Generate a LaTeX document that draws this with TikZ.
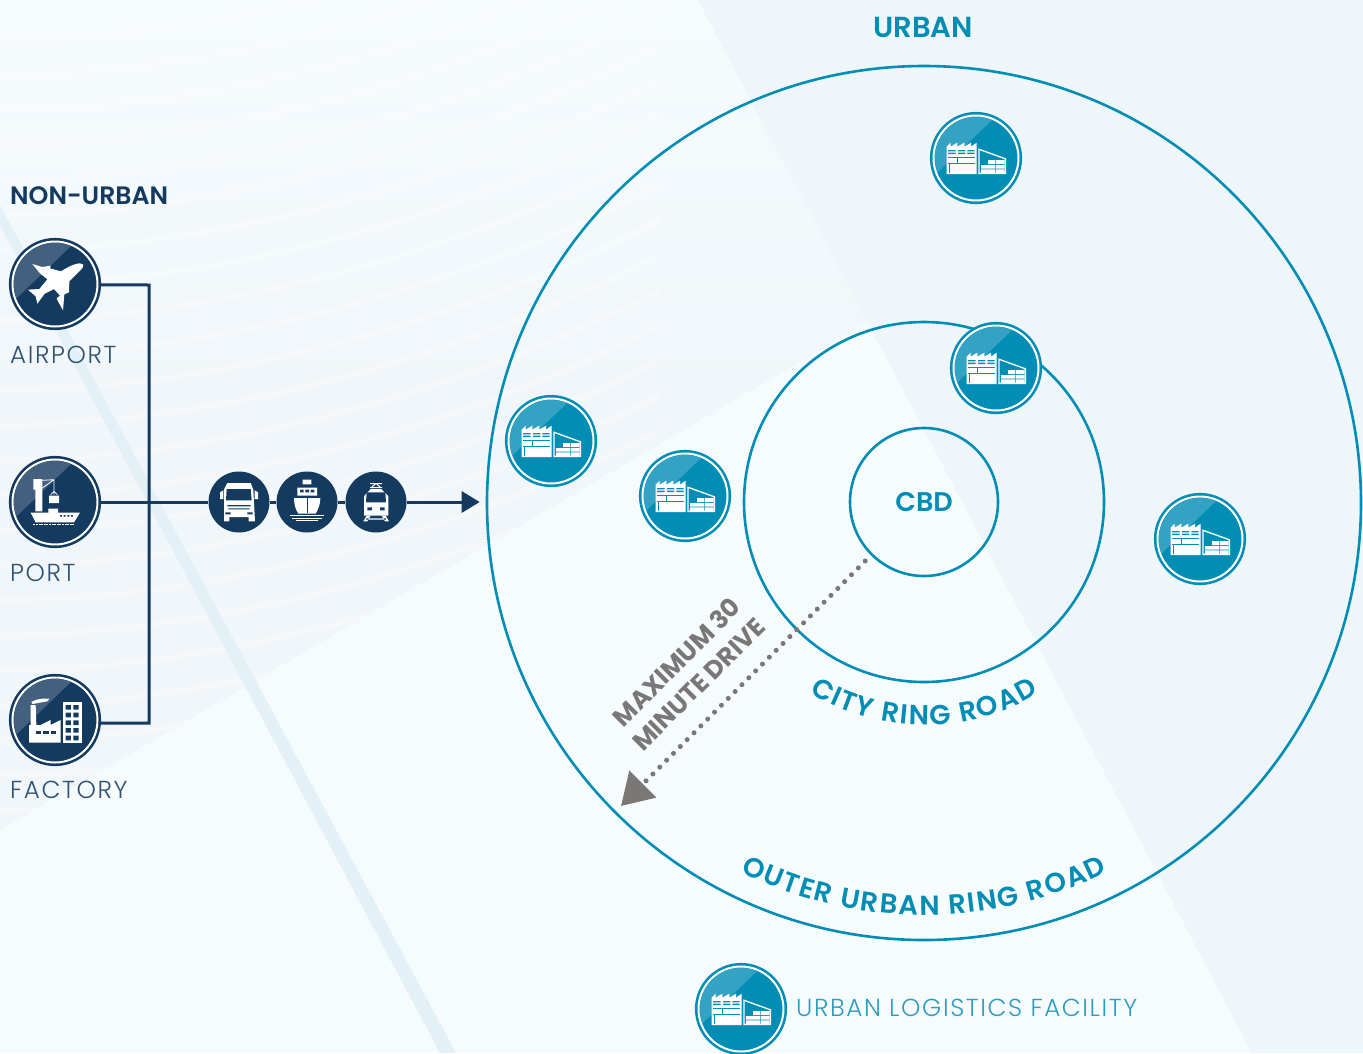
\documentclass[tikz,border=0pt]{standalone}
\usepackage{fontspec}
\setmainfont{Poppins}
\newfontfamily\lightfont[LetterSpace=6.5]{Poppins Light}
\newfontfamily\headfont{Poppins SemiBold}
\usepackage{tikz}
\usetikzlibrary{positioning}
\usetikzlibrary{arrows.meta}
\usetikzlibrary{decorations.text}
\definecolor{navy}{HTML}{143A5F}
\definecolor{ringteal}{HTML}{028DB5}
\definecolor{labelteal}{HTML}{2E9CBE}
\definecolor{labelnavy}{HTML}{2F5273}
\definecolor{drivegrey}{HTML}{7A7876}
\definecolor{paleback}{HTML}{F6FBFE}
\definecolor{midback}{HTML}{F0F6F9}
\definecolor{sideback}{HTML}{EEF6F9}
\definecolor{bandback}{HTML}{E3F0F5}
\newcommand{\ringfont}{\fontsize{27.5}{27.5}\selectfont\headfont\color{ringteal}}
\tikzset{
  hub/.style={circle,inner sep=0pt,minimum size=85pt,fill=#1,draw=#1,line width=2.6pt,
    double=white,double distance=2pt},
  modedisc/.style={circle,inner sep=0pt,minimum size=61pt,fill=navy},
  zoomed/.style 2 args={x=.3333pt,y=-.3333pt,shift={(-#1,-#2)}},
  smalltext/.style={font=\fontsize{24.6}{24.6}\lightfont,text=labelnavy,inner sep=0pt,anchor=base west},
  headtext/.style={font=\fontsize{25.2}{25.2}\headfont,inner sep=0pt},
  link/.style={draw=navy,line width=3pt},
  ringline/.style={circle,inner sep=0pt,draw=ringteal,line width=2.6pt},
}
\newcommand{\sheen}{\begin{scope}
  \clip (0,0) circle (41);
  \fill[white,opacity=.2] (-60,-35) -- (40,61) -- (-60,61) -- cycle;
  \end{scope}}
\newcommand{\planeicon}{\begin{scope}[zoomed={163}{343}]
  \fill[white] (248,285) .. controls (250,295) and (235,305) .. (206,335) -- (205,368) -- (191,374) -- (187,422)
    -- (172,395) -- (168,386) -- (178,378) -- (160,358) -- (132,372) -- (110,402) -- (105,380) -- (82,360)
    -- (116,358) -- (140,329) -- (118,311) -- (95,283) -- (125,292) -- (150,288) -- (148,296) -- (181,305)
    .. controls (212,285) and (240,275) .. (248,285) -- cycle;
\end{scope}}
\newcommand{\porticon}{\begin{scope}[zoomed={163}{187}]
  \fill[white] (98,118) -- (125,118) -- (125,215) -- (104,215) -- (104,150) -- (98,150) -- cycle;
  \draw[white,line width=.8pt] (125,122) -- (160,120) -- (160,165) (125,145) -- (160,120) (150,165) -- (160,155) -- (170,165);
  \fill[white] (145,168) rectangle (175,190) (143,207) rectangle (172,225);
  \fill[white] (90,219) -- (238,219) -- (220,248) -- (105,248) -- cycle;
  \fill[navy] (178,226) rectangle (184,231) (189,226) rectangle (195,231) (200,226) rectangle (206,231) (211,226) rectangle (217,231);
  \draw[white,line width=1.4pt,dash pattern=on 2pt off .6pt] (98,255) -- (220,255);
\end{scope}}
\newcommand{\factoryicon}{\begin{scope}[zoomed={163}{840}]
  \fill[white] (90,795) -- (105,795) -- (107,855) -- (120,855) -- (150,840) -- (150,855) -- (180,840) -- (180,908)
    -- (85,908) -- (85,855) -- (90,855) -- cycle;
  \fill[white] (92,786) .. controls (110,775) and (130,775) .. (146,776) -- (140,784) -- (96,792) -- cycle;
  \fill[white] (187,787) rectangle (243,908);
  \foreach \wy in {795,818,841,864,887} {
    \fill[navy] (195,\wy) rectangle (211,\wy+14) (218,\wy) rectangle (234,\wy+14);
  }
  \foreach \wx in {105,128,151} {
    \fill[navy] (\wx,874) rectangle (\wx+16,882);
  }
\end{scope}}
\newcommand{\truckicon}{\begin{scope}[zoomed={117}{127}]
  \fill[white] (82,70) -- (152,70) -- (160,90) -- (165,185) -- (146,185) -- (146,172) -- (88,172) -- (88,185) -- (72,185) -- (72,90) -- cycle;
  \fill[white] (60,98) -- (70,92) -- (70,118) -- (60,118) -- cycle (174,98) -- (164,92) -- (164,118) -- (174,118) -- cycle;
  \fill[navy] (80,88) -- (152,88) -- (155,122) -- (78,122) -- cycle;
  \fill[navy] (82,136) rectangle (152,140) (85,146) rectangle (149,149) (76,158) rectangle (92,164) (142,158) rectangle (158,164);
\end{scope}}
\newcommand{\shipicon}{\begin{scope}[zoomed={322}{127}]
  \fill[white] (309,60) rectangle (335,74) (293,84) rectangle (352,108);
  \fill[white] (283,115) -- (362,115) .. controls (362,135) and (355,150) .. (348,162) -- (296,162) .. controls (288,150) and (283,135) .. (283,115) -- cycle;
  \fill[navy] (301,90) rectangle (312,98) (317,90) rectangle (328,98) (333,90) rectangle (344,98);
  \draw[navy,line width=.8pt] (322,116) -- (322,160);
  \draw[white,line width=1pt] (272,168) -- (372,168) (278,176) -- (366,176) (288,183) -- (356,183);
\end{scope}}
\newcommand{\trainicon}{\begin{scope}[zoomed={528}{127}]
  \draw[white,line width=1pt] (510,72) -- (546,72) (515,82) -- (528,72) -- (541,82) (510,84) -- (546,84);
  \fill[white] (512,88) -- (544,88) -- (565,110) -- (565,168) -- (492,168) -- (492,110) -- cycle;
  \fill[navy] (500,98) -- (556,98) -- (558,128) -- (498,128) -- cycle;
  \fill[navy] (502,143) rectangle (516,152) (540,143) rectangle (554,152);
  \fill[white] (500,168) -- (512,168) -- (502,185) -- (490,185) -- cycle (545,168) -- (557,168) -- (567,185) -- (555,185) -- cycle (498,176) rectangle (558,180);
\end{scope}}
\newcommand{\facilityicon}{\begin{scope}[zoomed={168}{174}]
  \fill[white] (80,140) -- (92,128) -- (92,140) -- (112,128) -- (112,140) -- (133,128) -- (133,140) -- (153,128) -- (153,140) -- (170,128) -- (170,222) -- (80,222) -- cycle;
  \fill[ringteal] (84,150) rectangle (107,154) (114,150) rectangle (136,154) (142,150) rectangle (164,154)
    (84,158) rectangle (107,162) (114,158) rectangle (136,162) (142,158) rectangle (164,162);
  \draw[ringteal,line width=.7pt] (85,172) -- (165,172) (112,172) -- (112,190) (85,190) -- (165,190) (88,190) -- (88,218);
  \fill[white] (175,145) -- (258,175) -- (258,222) -- (175,222) -- cycle;
  \fill[ringteal] (179,151) -- (254,178) -- (254,218) -- (179,218) -- cycle;
  \fill[white] (204,180) rectangle (226,192) (228,180) rectangle (254,192) (183,195) rectangle (226,206) (228,195) rectangle (254,206) (183,208) rectangle (226,220) (228,208) rectangle (254,220);
\end{scope}}
\begin{document}
\begin{tikzpicture}[x=1pt,y=1pt]
\useasboundingbox (0,0) rectangle (1363,-1053);
% backdrop
\fill[paleback] (0,0) rectangle (1363,-1053);
\begin{scope}
\clip (0,0) -- (698,0) -- (880,-315) -- (0,-830) -- cycle;
\fill[midback] (0,-400) rectangle (880,-830);
\shade[top color=paleback,bottom color=midback] (0,0) rectangle (880,-400);
\foreach \wavey in {40,75,...,810} {
  \draw[white,line width=6pt,opacity=.3] (0,-\wavey) .. controls (200,-\wavey) and (450,-\wavey+60) .. (660,-\wavey+170);
}
\end{scope}
\fill[sideback] (698,0) -- (1363,0) -- (1363,-1053) -- (1252,-1053) -- cycle;
\fill[bandback] (0,-205) -- (0,-225) -- (440,-1053) -- (456,-1053) -- cycle;
% rings
\node[ringline,minimum size=874pt] (outer) at (924,-503) {};
\node[ringline,minimum size=360pt] (inner) at (924,-502) {};
\node[ringline,minimum size=148pt,text=ringteal,font=\fontsize{27}{27}\headfont] (cbd) at (924,-502) {CBD};
\node[headtext,text=ringteal,font=\fontsize{29}{29}\headfont] (urban) at (923,-27) {URBAN};
% ring names
\path[decorate,decoration={text along path,text align=fit to path,
  text={|\ringfont|CITY RING ROAD}}] (924,-502) ++(239:223) arc (239:301:223);
\path[decorate,decoration={text along path,text align=fit to path,
  text={|\ringfont|OUTER URBAN RING ROAD}}] (924,-502) ++(243.6:413) arc (243.6:296.4:413);
% non-urban side
\node[headtext,text=navy,anchor=base west] (nonurban) at (10,-204) {NON-URBAN};
\node[hub=navy] (airport) at (55,-284) {};
\node[hub=navy] (port) at (55,-502) {};
\node[hub=navy] (factory) at (55,-720) {};
\begin{scope}[shift={(airport)}] \sheen \planeicon \end{scope}
\begin{scope}[shift={(port)}] \sheen \porticon \end{scope}
\begin{scope}[shift={(factory)}] \sheen \factoryicon \end{scope}
\node[smalltext] (airportlabel) at (10,-363) {AIRPORT};
\node[smalltext] (portlabel) at (10,-581) {PORT};
\node[smalltext] (factorylabel) at (10,-798) {FACTORY};
\coordinate (spine) at (149,-285);
\draw[link] (airport.-1) -- (spine) -- (spine |- factory.-4) -- (factory.-4);
\node[modedisc] (truck) at (239,-502) {};
\node[modedisc] (ship) at (307,-502) {};
\node[modedisc] (train) at (376,-502) {};
\begin{scope}[shift={(truck)}] \truckicon \end{scope}
\begin{scope}[shift={(ship)}] \shipicon \end{scope}
\begin{scope}[shift={(train)}] \trainicon \end{scope}
\draw[link] (port) -- (truck);
\draw[link] (truck) -- (ship);
\draw[link] (ship) -- (train);
\draw[link,-{Triangle[length=18pt,width=21pt]},shorten >=6pt] (train) -- (train -| outer.west);
% drive limit
\coordinate (drivetip) at (621,-806);
\draw[drivegrey,line width=5pt,line cap=round,dash pattern=on 0pt off 9.7pt,shorten <=8pt,
  -{Triangle[length=31pt,width=37pt]}] (cbd) -- (drivetip);
\node[rotate=45,align=center,text=drivegrey,inner sep=0pt,font=\fontsize{25.2}{31}\selectfont\bfseries] (drivelabel) at (687.5,-673) {MAXIMUM 30\\MINUTE DRIVE};
% facilities
\foreach \fname/\fx/\fy in {north/976/158,ringsite/996/368,west/551/441,inwest/685/496,east/1200/539,key/741/1009} {
  \node[hub=ringteal] (\fname) at (\fx,-\fy) {};
  \begin{scope}[shift={(\fname)}] \sheen \facilityicon \end{scope}
}
\node[smalltext,text=labelteal,anchor=base west] (keylabel) at (796,-1016) {URBAN LOGISTICS FACILITY};
\end{tikzpicture}
\end{document}
